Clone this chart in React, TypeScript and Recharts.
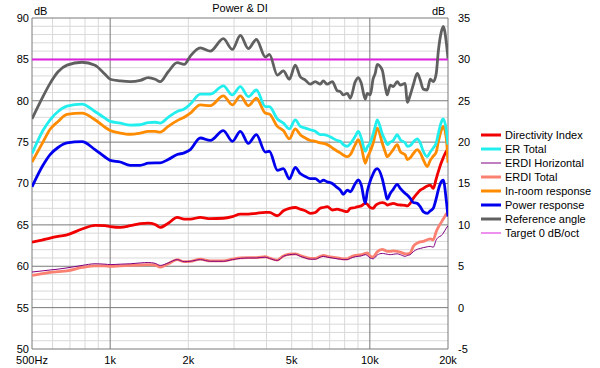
import { LineChart, Line, XAxis, YAxis, CartesianGrid, ReferenceLine, Legend } from "recharts"

// frequency points (Hz)
const freqs = [
  500, 551, 587, 630, 682, 779, 874, 955, 1000, 1093,
  1194, 1305, 1401, 1491, 1558, 1673, 1812, 1928, 2036, 2224,
  2431, 2728, 2955, 3172, 3405, 3656, 3960, 4103, 4405, 4645,
  4899, 5162, 5396, 5641, 5897, 6164, 6444, 6617, 6857, 7167,
  7493, 7695, 7901, 8188, 8408, 8790, 9026, 9270, 9605, 9772,
  10035, 10306, 10491, 10678, 11163, 11464, 11669, 11984, 12307, 12751,
  13095, 13689, 13933, 14310, 14696, 15225, 15636, 16059, 16638, 17087,
  17548, 18021, 18344, 18839, 19176, 19693, 20000,
]

// left axis (dB SPL)
const referenceAngle = [
  77.8, 80.5, 82.1, 83.5, 84.3, 84.65, 84.3, 83.2, 82.6, 82.4,
  82.3, 82.45, 82.8, 82.6, 82.3, 83.5, 84.6, 84.4, 85.4, 86.4,
  86.0, 87.5, 86.2, 87.9, 86.3, 87.4, 85.3, 85.6, 83.1, 83.6,
  82.6, 84.3, 82.9, 82.5, 82.0, 82.3, 82.0, 82.4, 82.0, 82.3,
  81.2, 81.1, 80.7, 80.9, 80.3, 82.3, 82.8, 82.1, 80.2, 80.9,
  80.7, 82.7, 83.3, 84.4, 83.7, 81.7, 80.7, 81.9, 81.7, 82.3,
  81.9, 82.1, 79.8, 80.7, 81.9, 83.3, 82.5, 81.4, 81.3, 82.6,
  82.3, 83.3, 85.9, 88.3, 89.0, 87.1, 85.1,
]

const erTotal = [
  73.6, 76.4, 77.7, 78.7, 79.35, 79.6, 78.7, 77.9, 77.5, 77.3,
  77.05, 77.1, 77.35, 77.4, 77.3, 78.0, 78.7, 79.0, 79.6, 80.8,
  80.8, 81.8, 80.7, 81.7, 80.5, 81.3, 79.3, 79.3, 77.8, 77.3,
  76.6, 77.7, 76.9, 76.7, 76.5, 76.3, 75.9, 75.9, 75.8, 75.5,
  75.2, 75.1, 74.7, 74.5, 74.8, 75.7, 76.3, 75.5, 73.9, 74.4,
  74.9, 76.0, 76.9, 77.7, 76.0, 75.2, 74.7, 75.0, 75.2, 75.9,
  75.3, 74.9, 74.5, 74.6, 75.0, 75.4, 74.9, 73.9, 73.25, 73.8,
  74.3, 74.9, 76.0, 77.4, 77.8, 76.5, 74.7,
]

const inRoom = [
  72.6, 75.0, 76.55, 77.5, 78.35, 78.5, 77.7, 76.8, 76.4, 76.1,
  75.95, 76.1, 76.3, 76.3, 76.2, 76.9, 77.6, 78.0, 78.5, 79.5,
  79.4, 80.6, 79.5, 80.6, 79.4, 80.3, 78.5, 78.4, 76.9, 76.4,
  75.4, 76.6, 75.9, 75.5, 75.2, 75.1, 74.9, 74.85, 74.7, 74.3,
  73.9, 73.7, 73.45, 73.25, 73.5, 74.7, 75.3, 74.45, 72.45, 73.1,
  73.9, 74.9, 75.9, 76.7, 74.9, 73.8, 73.25, 73.6, 74.1, 74.7,
  73.85, 73.45, 72.9, 73.1, 73.6, 74.1, 73.7, 72.9, 72.05, 72.8,
  73.3, 73.8, 75.0, 76.4, 76.9, 75.5, 72.5,
]

const powerResponse = [
  69.6, 72.2, 73.5, 74.35, 74.9, 75.05, 74.1, 73.2, 72.8, 72.6,
  72.2, 72.2, 72.45, 72.5, 72.5, 72.9, 73.5, 73.7, 74.1, 75.5,
  75.2, 76.4, 75.1, 76.3, 74.85, 75.9, 73.8, 73.9, 71.6, 71.8,
  70.55, 71.95, 71.2, 70.85, 70.6, 70.6, 70.2, 70.4, 70.2, 70.0,
  69.5, 69.2, 68.7, 69.2, 69.0, 70.0, 70.45, 69.8, 67.6, 69.0,
  70.3, 71.2, 71.65, 71.8, 70.6, 69.0, 68.1, 68.8, 69.3, 69.9,
  69.4, 68.8, 68.6, 68.2, 67.7, 67.6, 67.2, 66.6, 66.4, 66.7,
  67.0, 68.2, 69.2, 70.2, 70.4, 68.0, 66.0,
]

// right axis (dB)
const directivityIndex = [
  7.9, 8.2, 8.4, 8.6, 8.8, 9.5, 9.95, 9.9, 9.8, 9.7,
  9.9, 10.15, 10.2, 10.05, 9.7, 10.2, 10.9, 10.7, 10.7, 10.9,
  10.75, 10.8, 11.0, 11.3, 11.3, 11.4, 11.5, 11.5, 11.1, 11.7,
  12.0, 12.1, 11.9, 11.7, 11.4, 11.5, 12.0, 12.1, 12.2, 11.8,
  11.9, 11.8, 11.7, 11.6, 12.0, 12.1, 12.2, 12.3, 12.6, 12.5,
  12.1, 12.0, 12.3, 12.5, 12.7, 12.6, 12.4, 12.5, 12.6, 12.45,
  12.4, 12.35, 12.3, 12.6, 13.2, 13.8, 14.2, 14.4, 14.7, 14.8,
  14.4, 15.6, 16.4, 17.5, 18.1, 18.9, 19.1,
]

const erdiHorizontal = [
  4.3, 4.45, 4.55, 4.65, 4.8, 5.1, 5.3, 5.25, 5.2, 5.25,
  5.3, 5.4, 5.45, 5.35, 5.1, 5.4, 5.8, 5.55, 5.6, 5.8,
  5.6, 5.6, 5.8, 5.95, 6.0, 6.0, 6.1, 5.95, 5.7, 6.2,
  6.4, 6.45, 6.2, 6.0, 5.85, 5.85, 6.1, 6.2, 6.1, 6.0,
  5.9, 5.85, 5.8, 5.8, 5.95, 6.15, 6.2, 6.25, 6.4, 6.3,
  6.0, 5.9, 6.1, 6.35, 6.55, 6.5, 6.45, 6.4, 6.45, 6.5,
  6.4, 6.2, 6.3, 6.4, 6.75, 7.05, 7.15, 7.25, 7.35, 7.4,
  7.3, 8.2, 8.5, 8.7, 9.0, 9.6, 9.9,
]

const erdiTotal = [
  3.9, 4.1, 4.25, 4.35, 4.45, 4.85, 5.05, 5.05, 5.0, 5.05,
  5.1, 5.15, 5.2, 5.15, 4.9, 5.3, 5.8, 5.55, 5.6, 5.85,
  5.65, 5.65, 5.85, 6.0, 6.05, 6.05, 6.15, 6.0, 5.75, 6.25,
  6.45, 6.5, 6.3, 6.1, 5.95, 5.95, 6.2, 6.3, 6.2, 6.1,
  6.0, 5.95, 5.9, 5.9, 6.1, 6.3, 6.35, 6.4, 6.55, 6.6,
  6.2, 6.1, 6.4, 6.75, 7.05, 6.9, 6.8, 6.8, 6.85, 6.8,
  6.7, 6.5, 6.5, 6.6, 7.4, 7.8, 7.95, 8.0, 8.2, 8.3,
  8.2, 9.2, 9.7, 10.3, 10.7, 11.3, 11.6,
]

const targetLevel = 85

const xTicks = [500, 1000, 2000, 5000, 10000, 20000]
const xTickLabels = ["500Hz", "1k", "2k", "5k", "10k", "20k"]
const leftTicks = [50, 55, 60, 65, 70, 75, 80, 85, 90]
const rightTicks = [-5, 0, 5, 10, 15, 20, 25, 30, 35]
const minorFreqs = [600, 700, 800, 900, 2000, 3000, 4000, 5000, 6000, 7000, 8000, 9000]
const majorFreqs = [500, 1000, 10000, 20000]
const minorDb = [
  51, 52, 53, 54, 56, 57, 58, 59, 61, 62, 63, 64, 66, 67, 68, 69,
  71, 72, 73, 74, 76, 77, 78, 79, 81, 82, 83, 84, 86, 87, 88, 89,
]

const data = freqs.map((f, i) => ({
  f,
  ref: referenceAngle[i],
  er: erTotal[i],
  room: inRoom[i],
  power: powerResponse[i],
  di: directivityIndex[i],
  erdiH: erdiHorizontal[i],
  erdiT: erdiTotal[i],
}))

const font = "'Liberation Sans', Arial, sans-serif"

const legendItems = [
  { name: "Directivity Index", color: "#f00000", w: 3 },
  { name: "ER Total", color: "#22eeee", w: 3 },
  { name: "ERDI Horizontal", color: "#800080", w: 1 },
  { name: "ERDI Total", color: "#fa8072", w: 3 },
  { name: "In-room response", color: "#ff8c00", w: 3 },
  { name: "Power response", color: "#0000ee", w: 3 },
  { name: "Reference angle", color: "#606060", w: 3 },
  { name: "Target 0 dB/oct", color: "#dd22dd", w: 1 },
]

function LegendBox() {
  return (
    <div style={{ fontFamily: font, fontSize: 11, color: "#000" }}>
      {legendItems.map((it) => (
        <div key={it.name} style={{ display: "flex", alignItems: "center", height: 14 }}>
          <svg width={25} height={14}>
            <line x1={1} x2={21} y1={7} y2={7} stroke={it.color} strokeWidth={it.w} />
          </svg>
          <span>{it.name}</span>
        </div>
      ))}
    </div>
  )
}

export default function App() {
  return (
    <div style={{ position: "absolute", left: 0, top: 0, width: 600, height: 368, background: "#fff", fontFamily: font }}>
      <div style={{ position: "absolute", left: 190, width: 100, top: 1, lineHeight: "14px", fontSize: 11, textAlign: "center" }}>
        Power &amp; DI
      </div>
      <div style={{ position: "absolute", left: 34, top: 4, lineHeight: "14px", fontSize: 11 }}>dB</div>
      <div style={{ position: "absolute", left: 432, top: 4, lineHeight: "14px", fontSize: 11 }}>dB</div>
      <LineChart width={600} height={368} data={data} margin={{ top: 18, right: 112, left: 0, bottom: 0 }}>
        <CartesianGrid
          xAxisId="x"
          yAxisId="left"
          stroke="#d9d9d9"
          horizontalValues={minorDb}
          verticalValues={minorFreqs}
        />
        <CartesianGrid
          xAxisId="x"
          yAxisId="left"
          stroke="#7a7a7a"
          horizontalValues={leftTicks}
          verticalValues={majorFreqs}
        />
        <XAxis
          xAxisId="x"
          dataKey="f"
          type="number"
          scale="log"
          domain={[500, 20000]}
          allowDataOverflow
          ticks={xTicks}
          interval={0}
          tickFormatter={(v: number) => xTickLabels[xTicks.indexOf(v)] ?? ""}
          axisLine={false}
          tickLine={false}
          tickSize={0}
          tickMargin={7}
          height={19}
          tick={{ fontSize: 11, fill: "#000", fontFamily: font }}
        />
        <YAxis
          yAxisId="left"
          domain={[50, 90]}
          ticks={leftTicks}
          interval={0}
          allowDataOverflow
          axisLine={false}
          tickLine={false}
          tickSize={0}
          tickMargin={3}
          width={32}
          tick={{ fontSize: 11, fill: "#000", fontFamily: font }}
        />
        <YAxis
          yAxisId="right"
          orientation="right"
          domain={[-5, 35]}
          ticks={rightTicks}
          interval={0}
          allowDataOverflow
          axisLine={false}
          tickLine={false}
          tickSize={0}
          tickMargin={10}
          width={40}
          tick={{ fontSize: 11, fill: "#000", fontFamily: font }}
        />
        <ReferenceLine xAxisId="x" yAxisId="left" y={targetLevel} stroke="#dd22dd" strokeWidth={2} />
        <Line xAxisId="x" yAxisId="right" dataKey="erdiT" name="ERDI Total" stroke="#fa8072" strokeWidth={2.8} dot={false} type="monotone" isAnimationActive={false} />
        <Line xAxisId="x" yAxisId="right" dataKey="erdiH" name="ERDI Horizontal" stroke="#800080" strokeWidth={1} dot={false} type="monotone" isAnimationActive={false} />
        <Line xAxisId="x" yAxisId="right" dataKey="di" name="Directivity Index" stroke="#f00000" strokeWidth={2.8} dot={false} type="monotone" isAnimationActive={false} />
        <Line xAxisId="x" yAxisId="left" dataKey="power" name="Power response" stroke="#0000ee" strokeWidth={2.8} dot={false} type="monotone" isAnimationActive={false} />
        <Line xAxisId="x" yAxisId="left" dataKey="room" name="In-room response" stroke="#ff8c00" strokeWidth={2.8} dot={false} type="monotone" isAnimationActive={false} />
        <Line xAxisId="x" yAxisId="left" dataKey="er" name="ER Total" stroke="#22eeee" strokeWidth={2.8} dot={false} type="monotone" isAnimationActive={false} />
        <Line xAxisId="x" yAxisId="left" dataKey="ref" name="Reference angle" stroke="#606060" strokeWidth={2.8} dot={false} type="monotone" isAnimationActive={false} />
        <Legend
          layout="vertical"
          align="center"
          verticalAlign="middle"
          content={() => <LegendBox />}
          wrapperStyle={{ left: 480, top: 128, width: 120, height: "auto" }}
        />
      </LineChart>
    </div>
  )
}
